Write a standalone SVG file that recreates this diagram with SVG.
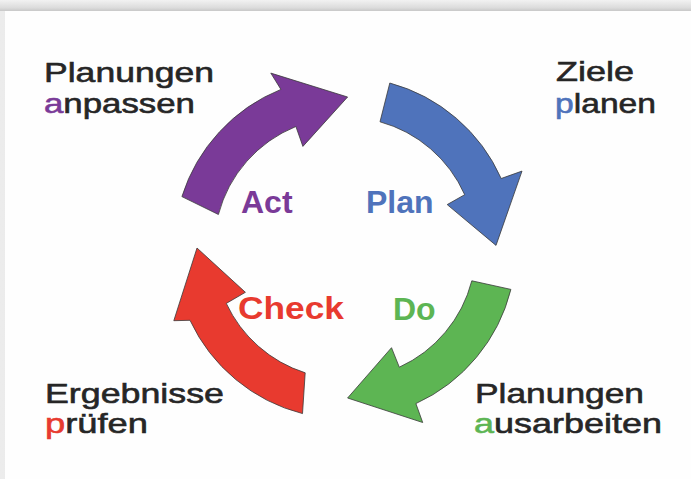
<svg xmlns="http://www.w3.org/2000/svg" width="691" height="479" viewBox="0 0 691 479">
  <defs>
    <linearGradient id="topg" x1="0" y1="0" x2="0" y2="1">
      <stop offset="0" stop-color="#f2f2f2"/>
      <stop offset="0.7" stop-color="#dcdcdc"/>
      <stop offset="1" stop-color="#c8c8c8"/>
    </linearGradient>
    <linearGradient id="leftg" x1="0" y1="0" x2="1" y2="0">
      <stop offset="0" stop-color="#ececec"/>
      <stop offset="1" stop-color="#d0d0d0"/>
    </linearGradient>
  </defs>
  <style>
    .arrow { stroke: #3a3a3a; stroke-width: 0.8; stroke-linejoin: miter; }
    .txt { font-family: "Liberation Sans", Arial, Helvetica, sans-serif; font-size: 28.5px; fill: #262626; stroke: #262626; stroke-width: 0.6; }
    .lbl { font-family: "Liberation Sans", Arial, Helvetica, sans-serif; font-size: 32px; font-weight: bold; }
    .purple { fill: #7a3a98; stroke: #7a3a98; }
    .blue { fill: #4f73bb; stroke: #4f73bb; }
    .green { fill: #5db553; stroke: #5db553; }
    .red { fill: #e83a2f; stroke: #e83a2f; }
    .lbl.purple, .lbl.blue, .lbl.green, .lbl.red { stroke: none; }
    path.purple, path.blue, path.green, path.red { stroke: #3a3a3a; }
  </style>

  <!-- frame -->
  <rect x="0" y="0" width="691" height="479" fill="url(#leftg)"/>
  <rect x="0" y="0" width="691" height="11" fill="url(#topg)"/>
  <rect x="5" y="11" width="686" height="468" fill="#fefefe"/>

  <g id="connectors">
    <path id="arrow-act" class="arrow purple" d="M181.9,196.6 A171,171 0 0 1 280.9,89.4 L270.8,73.1 L347.6,97.0 L302.9,146.4 L295.9,126.5 A131,131 0 0 0 218.4,214.5 Z"/>
    <path id="arrow-plan" class="arrow blue" d="M389.8,83.0 A171,171 0 0 1 501.2,178.5 L522.0,171.1 L496.0,245.4 L447.2,204.6 L464.7,194.7 A131,131 0 0 0 380.0,121.8 Z"/>
    <path id="arrow-do" class="arrow green" d="M510.9,289.4 A171,171 0 0 1 415.9,403.6 L422.7,422.5 L347.6,398.0 L391.5,347.7 L399.3,367.2 A131,131 0 0 0 471.8,280.8 Z"/>
    <path id="arrow-check" class="arrow red" d="M302.5,413.6 A171,171 0 0 1 190.0,320.3 L173.8,320.7 L197.0,248.0 L245.4,292.3 L226.3,303.4 A131,131 0 0 0 305.2,372.8 Z"/>
  </g>

  <g id="node-act">
    <text class="lbl purple" x="241" y="213">Act</text>
  </g>
  <g id="node-plan">
    <text class="lbl blue" x="366" y="213">Plan</text>
  </g>
  <g id="node-check">
    <text class="lbl red" x="238" y="319" textLength="106" lengthAdjust="spacingAndGlyphs">Check</text>
  </g>
  <g id="node-do">
    <text class="lbl green" x="393" y="320">Do</text>
  </g>

  <g id="node-planungen-anpassen">
    <text class="txt" x="44" y="82" textLength="170" lengthAdjust="spacingAndGlyphs">Planungen</text>
    <text class="txt" x="44" y="113" textLength="151" lengthAdjust="spacingAndGlyphs"><tspan class="purple">a</tspan>npassen</text>
  </g>
  <g id="node-ziele-planen">
    <text class="txt" x="556" y="81" textLength="78" lengthAdjust="spacingAndGlyphs">Ziele</text>
    <text class="txt" x="555" y="113" textLength="101" lengthAdjust="spacingAndGlyphs"><tspan class="blue">p</tspan>lanen</text>
  </g>
  <g id="node-ergebnisse-pruefen">
    <text class="txt" x="45" y="403" textLength="179" lengthAdjust="spacingAndGlyphs">Ergebnisse</text>
    <text class="txt" x="45" y="433" textLength="103" lengthAdjust="spacingAndGlyphs"><tspan class="red">p</tspan>rüfen</text>
  </g>
  <g id="node-planungen-ausarbeiten">
    <text class="txt" x="475" y="403" textLength="169" lengthAdjust="spacingAndGlyphs">Planungen</text>
    <text class="txt" x="474" y="433" textLength="188" lengthAdjust="spacingAndGlyphs"><tspan class="green">a</tspan>usarbeiten</text>
  </g>
</svg>
